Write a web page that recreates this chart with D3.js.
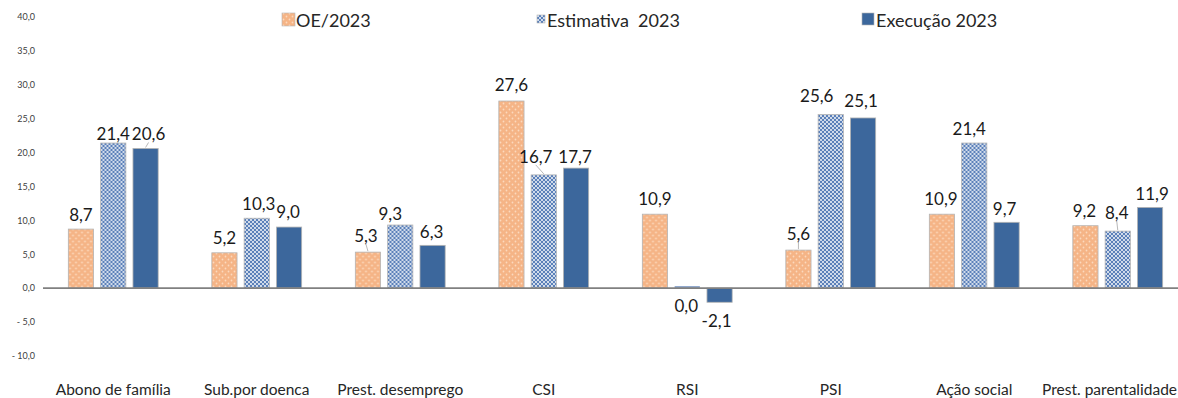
<!DOCTYPE html>
<html>
<head>
<meta charset="utf-8">
<script src="https://cdn.jsdelivr.net/npm/d3@7"></script>
<style>
  html, body { margin: 0; padding: 0; background: #fff; }
  svg { display: block; font-family: Lato, "Open Sans", sans-serif; }
</style>
</head>
<body>
<svg id="chart" width="1178" height="398"></svg>
<script>
// Categories and series
const categories = ["Abono de família", "Sub.por doenca", "Prest. desemprego", "CSI", "RSI", "PSI", "Ação social", "Prest. parentalidade"];
const seriesNames = ["OE/2023", "Estimativa  2023", "Execução 2023"];
const oe2023 = [8.7, 5.2, 5.3, 27.6, 10.9, 5.6, 10.9, 9.2];
const estimativa2023 = [21.4, 10.3, 9.3, 16.7, 0.0, 25.6, 21.4, 8.4];
const execucao2023 = [20.6, 9.0, 6.3, 17.7, -2.1, 25.1, 9.7, 11.9];
const yTicks = [-10, -5, 0, 5, 10, 15, 20, 25, 30, 35, 40];

// Label nudges [dx, dy, leader] per series, per category
const labelNudge = [
  [[0,0,0],[0,-1,0],[-2,-2,1],[0,-2,0],[0,-1,0],[0,-2,1],[-1,-1,0],[-1,-1,0]],
  [[0,5,0],[2,0,0],[-10,3,0],[-8,-4,1],[-1,32,0],[-14,-5,0],[-5,0,0],[-1,-4,1]],
  [[3,0,1],[-1,-1,0],[-1,1,0],[-1,3,0],[-3,4,0],[-2,-3,0],[-2,1,0],[2,1,0]]
];

const seriesValues = [oe2023, estimativa2023, execucao2023];
const W = 1178;

const svg = d3.select("#chart");
const defs = svg.append("defs");

// Orange fill with light dots
const pOrange = defs.append("pattern").attr("id", "pOrange")
  .attr("patternUnits", "userSpaceOnUse").attr("width", 6).attr("height", 6);
pOrange.append("rect").attr("width", 6).attr("height", 6).attr("fill", "#f5b486");
pOrange.append("circle").attr("cx", 1.5).attr("cy", 1.5).attr("r", 0.9).attr("fill", "#fcd9bd");
pOrange.append("circle").attr("cx", 4.5).attr("cy", 4.5).attr("r", 0.9).attr("fill", "#fcd9bd");

// Blue lattice fill
const pBlue = defs.append("pattern").attr("id", "pBlue")
  .attr("patternUnits", "userSpaceOnUse").attr("width", 4).attr("height", 4);
pBlue.append("rect").attr("width", 4).attr("height", 4).attr("fill", "#ffffff");
[[0,0],[4,0],[0,4],[4,4],[2,2]].forEach(([cx, cy]) =>
  pBlue.append("circle").attr("cx", cx).attr("cy", cy).attr("r", 1.35).attr("fill", "#5b80b9"));

const fills = ["url(#pOrange)", "url(#pBlue)", "#3c679c"];

// Scales
const x0 = d3.scaleBand().domain(categories).range([41.5, 1189.5]).paddingInner(0).paddingOuter(0);
const x1 = d3.scaleBand().domain([0, 1, 2]).range([0, x0.bandwidth()])
  .paddingInner(0.22).paddingOuter(0.83);
const y = d3.scaleLinear().domain([-10, 40]).range([355.8, 17]);

const fmt = v => d3.format(".1f")(v).replace("−", "-").replace(".", ",");
const tickFmt = v => (v < 0 ? "- " + d3.format(".1f")(-v) : d3.format(".1f")(v)).replace(".", ",");

// Y tick labels (no axis line, no gridlines)
const yAxis = d3.axisLeft(y).tickValues(yTicks).tickFormat(tickFmt).tickSize(0).tickPadding(0);
const gy = svg.append("g").attr("transform", "translate(35,0)").call(yAxis);
gy.select(".domain").remove();
gy.selectAll("text").attr("font-size", 9).attr("fill", "#404040")
  .attr("font-family", "Lato, sans-serif");

// Bars
const groups = svg.append("g").selectAll("g")
  .data(categories).join("g")
  .attr("transform", d => `translate(${x0(d)},0)`);

groups.selectAll("rect")
  .data((d, i) => seriesValues.map((s, k) => ({ k, v: s[i], i })))
  .join("rect")
  .attr("x", d => x1(d.k))
  .attr("width", x1.bandwidth())
  .attr("y", d => y(Math.max(0, d.v)))
  .attr("height", d => Math.abs(y(d.v) - y(0)))
  .attr("fill", d => fills[d.k])
  .attr("stroke", d => d.v === 0 ? "none" : "#b4b4b4")
  .attr("stroke-width", 0.8);

// Zero-height estimate shows as a thin patterned sliver
groups.selectAll("rect.zero")
  .data((d, i) => seriesValues.map((s, k) => ({ k, v: s[i] })).filter(d => d.v === 0))
  .join("rect").attr("class", "zero")
  .attr("x", d => x1(d.k))
  .attr("width", x1.bandwidth())
  .attr("y", y(0) - 2).attr("height", 2)
  .attr("fill", "#8fa6cc");

// Zero line
svg.append("line")
  .attr("x1", 43).attr("x2", W)
  .attr("y1", y(0)).attr("y2", y(0))
  .attr("stroke", "#808080").attr("stroke-width", 1.8);

// Data labels with optional leader lines
const labels = [];
categories.forEach((c, i) => {
  seriesValues.forEach((s, k) => {
    const v = s[i];
    const cx = x0(c) + x1(k) + x1.bandwidth() / 2;
    const [dx, dy, leader] = labelNudge[k][i];
    const barEdge = y(v);
    const base = v >= 0 ? y(v) - 8 : y(v) + 21;
    labels.push({ v, cx, lx: cx + dx, ly: base + dy, barEdge, leader });
  });
});

const lab = svg.append("g");
lab.selectAll("line").data(labels.filter(d => d.leader)).join("line")
  .attr("x1", d => d.lx).attr("y1", d => d.ly + 2)
  .attr("x2", d => d.cx).attr("y2", d => d.barEdge - 1)
  .attr("stroke", "#a6a6a6").attr("stroke-width", 0.8);
lab.selectAll("text").data(labels).join("text")
  .attr("x", d => d.lx).attr("y", d => d.ly)
  .attr("text-anchor", "middle")
  .attr("font-size", 17).attr("fill", "#1a1a1a")
  .text(d => fmt(d.v));

// Category labels, kept inside the right edge
svg.append("g").selectAll("text").data(categories).join("text")
  .attr("x", d => x0(d) + x0.bandwidth() / 2)
  .attr("y", 395)
  .attr("text-anchor", "middle")
  .attr("font-size", 15.5).attr("fill", "#262626")
  .text(d => d)
  .each(function () {
    const b = this.getBBox();
    const over = b.x + b.width - (W - 1);
    if (over > 0) d3.select(this).attr("x", +d3.select(this).attr("x") - over);
  });

// Legend
const legend = svg.append("g");
const legendItems = [
  { name: seriesNames[0], fill: fills[0], sx: 282, sy: 13, s: 13, tx: 296 },
  { name: seriesNames[1], fill: fills[1], sx: 537, sy: 15, s: 8, tx: 547 },
  { name: seriesNames[2], fill: fills[2], sx: 862, sy: 13, s: 12, tx: 876 }
];
legendItems.forEach(d => {
  legend.append("rect").attr("x", d.sx).attr("y", d.sy).attr("width", d.s).attr("height", d.s)
    .attr("fill", d.fill).attr("stroke", "#b4b4b4").attr("stroke-width", 0.6);
  legend.append("text").attr("x", d.tx).attr("y", 26.5)
    .attr("font-size", 18).attr("fill", "#262626")
    .attr("xml:space", "preserve").style("white-space", "pre")
    .text(d.name);
});
</script>
</body>
</html>
